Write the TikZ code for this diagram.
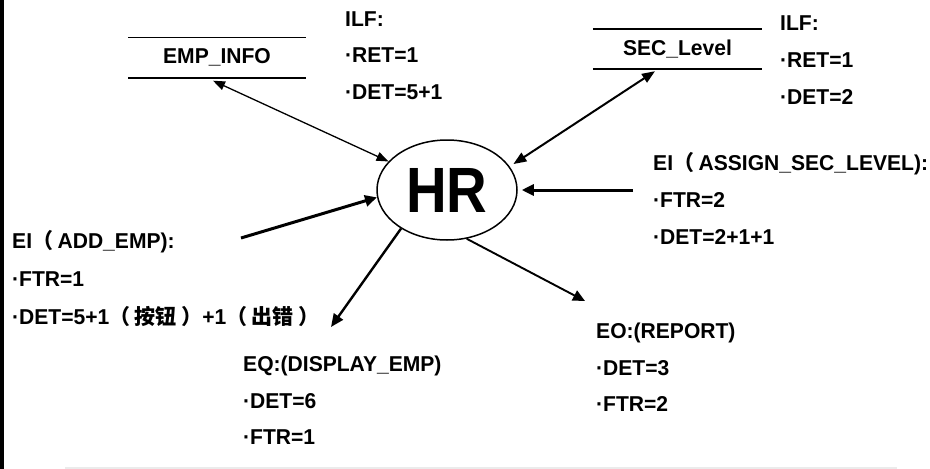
\documentclass[tikz,border=0pt]{standalone}
\usepackage{fontspec}
\usetikzlibrary{shapes.geometric,arrows.meta}
\newfontfamily\lab[FakeStretch=0.98]{Liberation Sans}
\newfontfamily\hrfont[FakeStretch=0.88]{Liberation Sans}
\newfontfamily\cjk{Noto Sans CJK SC}
\newcommand\zhc[1]{{\cjk\bfseries\fontsize{21}{21}\selectfont #1}}
\newcommand\lp{\zhc{（}\hspace{4.5pt}}
\newcommand\rp{\hspace{4.5pt}\zhc{）}}
\tikzset{
  lbl/.style={anchor=base west, inner sep=0pt, font=\lab\bfseries\fontsize{21.5}{21.5}\selectfont},
  store/.style={inner sep=0pt, minimum width=177pt, minimum height=40pt, font=\lab\bfseries\fontsize{21.5}{21.5}\selectfont},
  storeline/.style={line width=1.6pt},
  thin2/.style={{Triangle[length=12pt,width=9pt]}-{Triangle[length=12pt,width=9pt]}, line width=1.3pt},
  med2/.style={{Triangle[length=13pt,width=10pt]}-{Triangle[length=13pt,width=10pt]}, line width=2pt},
  thick1/.style={-{Triangle[length=12pt,width=11pt]}, line width=3pt},
  med1/.style={-{Triangle[length=13pt,width=11pt]}, line width=2.4pt},
  thinone/.style={-{Triangle[length=12pt,width=11pt]}, line width=1.9pt},
}
\begin{document}
\begin{tikzpicture}[x=1pt,y=-1pt]
\useasboundingbox (0,0) rectangle (930,469);
\fill[white] (0,0) rectangle (930,469);
% frame pieces
\fill[black] (0,0) rectangle (3.5,469);
\draw[black!8, line width=1.5pt] (65,468) -- (897,468);

% central process
\node[ellipse, draw, line width=1.5pt, minimum width=140pt, minimum height=100pt, inner sep=0pt,
      font=\hrfont\bfseries\fontsize{64}{64}\selectfont] (hr) at (447,190) {\raisebox{-2pt}{HR}};

% data stores
\node[store] (emp) at (217,57.5) {\raisebox{-3.5pt}{EMP\_INFO}};
\draw[storeline] (emp.north west) -- (emp.north east);
\draw[storeline] (emp.south west) -- (emp.south east);

\node[store, minimum width=169pt] (sec) at (677.5,49) {\raisebox{-3.5pt}{SEC\_Level}};
\draw[storeline] (sec.north west) -- (sec.north east);
\draw[storeline] (sec.south west) -- (sec.south east);

% labels
\node[lbl] (ilf1) at (345,26.5) {ILF:};
\node[lbl] (ilf1a) at (345,62.5) {·RET=1};
\node[lbl] (ilf1b) at (345,99) {·DET=5+1};

\node[lbl] (ilf2) at (780,30) {ILF:};
\node[lbl] (ilf2a) at (780,67) {·RET=1};
\node[lbl] (ilf2b) at (780,104) {·DET=2};

\node[lbl] (ei2) at (653,170.5) {EI\lp ASSIGN\_SEC\_LEVEL):};
\node[lbl] (ei2a) at (653,207) {·FTR=2};
\node[lbl] (ei2b) at (653,244.5) {·DET=2+1+1};

\node[lbl] (ei1) at (12,248) {EI\lp ADD\_EMP):};
\node[lbl] (ei1a) at (12,286) {·FTR=1};
\node[lbl] (ei1b) at (12,324.5) {·DET=5+1\lp\zhc{按钮}\rp+1\lp\zhc{出错}\rp};

\node[lbl] (eq) at (243,371) {EQ:(DISPLAY\_EMP)};
\node[lbl] (eqa) at (243,408) {·DET=6};
\node[lbl] (eqb) at (243,444) {·FTR=1};

\node[lbl] (eo) at (596,338) {EO:(REPORT)};
\node[lbl] (eoa) at (596,375) {·DET=3};
\node[lbl] (eob) at (596,411) {·FTR=2};

% free ends of connectors
\coordinate (eiRin) at (633,190);
\coordinate (eiLin) at (241,238);
\coordinate (eqtip) at (331,327);
\coordinate (eotip) at (585,301);

% connectors
\draw[thin2] ([shift={(-4,3)}]emp.south) -- (hr.154);
\draw[med2] ([shift={(-22.5,2)}]sec.south) -- ([shift={(4,-2)}]hr.21);
\draw[thick1, shorten >=4pt] (eiRin) -- (hr.east);
\draw[thick1] (eiLin) -- (hr.186);
\draw[med1] (hr.220) -- (eqtip);
\draw[thinone] (hr.292) -- (eotip);
\end{tikzpicture}
\end{document}
